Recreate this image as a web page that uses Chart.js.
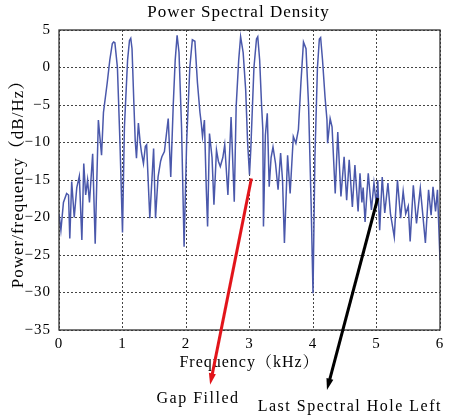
<!DOCTYPE html>
<html>
<head>
<meta charset="utf-8">
<script src="https://cdn.jsdelivr.net/npm/chart.js@4"></script>
<style>
  html, body { margin: 0; background: #fff; }
  #wrap { width: 454px; height: 416px; }
</style>
</head>
<body>
<div id="wrap"><canvas id="psdChart"></canvas></div>
<script>
// frequency (kHz) and PSD (dB/Hz)
const freqKHz = [
  0.00, 0.03, 0.07, 0.12, 0.15, 0.17, 0.20, 0.24, 0.28, 0.32, 0.36, 0.39, 0.42, 0.45, 0.48, 0.53, 0.57, 0.62, 0.67, 0.70, 0.76, 0.80, 0.84, 0.86, 0.88, 0.92, 0.96, 1.00,
  1.03, 1.08, 1.11, 1.13, 1.15, 1.18, 1.20, 1.22, 1.25, 1.28, 1.30, 1.33, 1.36, 1.38, 1.43, 1.49, 1.52, 1.56, 1.60, 1.62, 1.66, 1.72, 1.76, 1.80, 1.83, 1.86, 1.89, 1.93, 1.97,
  2.01, 2.06, 2.10, 2.14, 2.18, 2.22, 2.24, 2.26, 2.29, 2.32, 2.34, 2.37, 2.41, 2.44, 2.48, 2.51, 2.54, 2.58, 2.61, 2.66, 2.71, 2.76, 2.79, 2.83, 2.86, 2.90, 2.94, 2.97, 3.00,
  3.02, 3.07, 3.11, 3.13, 3.16, 3.19, 3.21, 3.22, 3.25, 3.28, 3.31, 3.34, 3.37, 3.41, 3.45, 3.49, 3.52, 3.55, 3.60, 3.64, 3.69, 3.73, 3.77, 3.81, 3.85, 3.89, 3.93, 3.97, 4.00,
  4.03, 4.07, 4.10, 4.12, 4.15, 4.19, 4.22, 4.23, 4.27, 4.30, 4.35, 4.39, 4.44, 4.49, 4.53, 4.57, 4.62, 4.66, 4.71, 4.74, 4.77, 4.79, 4.82, 4.87, 4.92, 4.96, 5.00,
  5.02, 5.05, 5.09, 5.13, 5.18, 5.22, 5.28, 5.33, 5.38, 5.42, 5.46, 5.50, 5.53, 5.58, 5.63, 5.69, 5.73, 5.77, 5.82, 5.86, 5.89, 5.93, 5.96, 6.00
]
const psdDb = [
  -19.5, -21.7, -18, -16.8, -17, -22.8, -15.2, -20, -16, -14.5, -23, -12.8, -17, -15, -18, -11.5, -23.5, -7, -11.7, -6, -2, 1, 3.2, 3.4, 3.3, 0, -10, -22,
  -8, 1, 3.6, 3.9, 2.5, -5, -9.7, -12.1, -7.4, -10.1, -11.4, -12.8, -10.5, -10.3, -20.1, -10.8, -20.1, -14.6, -12.5, -11.9, -11.2, -6.8, -14.6, -4.8, 1, 4.3, 2, -8, -23.9,
  -10, 0, 3.7, 3.5, -2, -6, -7.4, -9.2, -7, -16.3, -21.2, -8.8, -12, -18.3, -11, -12.5, -13.2, -12, -10.3, -17, -6.6, -17.9, -5.2, 1, 4.1, 2, -3, -10, -14.3,
  -11, 0, 3.8, 4.1, 1, -5, -8.3, -21.2, -9, -6.1, -15.9, -12, -10.6, -12.8, -16.3, -11.4, -15, -23.4, -11.7, -16.8, -9.2, -10.1, -8.3, -2, 3.4, 2.5, -5, -18, -30.1,
  -12, 0, 3.8, 4.0, 1, -4, -7, -10.1, -6.8, -7.9, -16.8, -8.6, -17.2, -11.9, -17.7, -12.3, -18.6, -13, -19.2, -14.1, -18, -16, -20.6, -14.1, -19, -15.4, -18.5,
  -15, -21.7, -14.6, -19.4, -15.4, -19.5, -22.6, -15, -20.1, -16.5, -19.5, -18.5, -23.2, -15.7, -20.8, -16.1, -19.7, -23.4, -16.3, -19.7, -15.9, -19.2, -16.3, -25.7
]

// annotation arrows, in data units
const noteText = ['Gap Filled', 'Last Spectral Hole Left']
const arrowFromX = [3.03, 5.02]
const arrowFromY = [-14.8, -17.4]
const arrowToX = [2.38, 4.22]
const arrowToY = [-42.3, -43]
const noteX = [2.19, 4.58]
const noteY = [-44.2, -45.3]

const chartTitle = 'Power Spectral Density'

const serif = "'Liberation Serif', 'Noto Serif CJK SC', 'Noto Sans CJK SC', serif"
const arrowColors = ['#e2141a', '#000000']

const spacing = {
  id: 'spacing',
  beforeLayout(chart) { chart.ctx.letterSpacing = '1px' },
  beforeDraw(chart) { chart.ctx.letterSpacing = '1px' }
}

const extras = {
  id: 'extras',
  afterDraw(chart) {
    const ctx = chart.ctx
    const a = chart.chartArea
    const xs = chart.scales.x
    const ys = chart.scales.y
    ctx.save()
    ctx.strokeStyle = '#333'
    ctx.lineWidth = 1.3
    ctx.strokeRect(a.left, a.top, a.right - a.left, a.bottom - a.top)

    // title, a bit right of the canvas centre like the original
    ctx.fillStyle = '#000'
    ctx.font = '17px ' + serif
    ctx.letterSpacing = '1px'
    ctx.textAlign = 'center'
    ctx.textBaseline = 'middle'
    ctx.fillText(chartTitle, (a.left + a.right) / 2 - 11, a.top - 17)

    for (let i = 0; i < noteText.length; i++) {
      const x0 = xs.getPixelForValue(arrowFromX[i])
      const y0 = ys.getPixelForValue(arrowFromY[i])
      const x1 = xs.getPixelForValue(arrowToX[i])
      const y1 = ys.getPixelForValue(arrowToY[i])
      const ang = Math.atan2(y1 - y0, x1 - x0)
      const head = 12
      ctx.strokeStyle = arrowColors[i]
      ctx.fillStyle = arrowColors[i]
      ctx.lineWidth = 3
      ctx.beginPath()
      ctx.moveTo(x0, y0)
      ctx.lineTo(x1 - Math.cos(ang) * head * 0.8, y1 - Math.sin(ang) * head * 0.8)
      ctx.stroke()
      ctx.beginPath()
      ctx.moveTo(x1, y1)
      ctx.lineTo(x1 - head * Math.cos(ang - 0.3), y1 - head * Math.sin(ang - 0.3))
      ctx.lineTo(x1 - head * Math.cos(ang + 0.3), y1 - head * Math.sin(ang + 0.3))
      ctx.closePath()
      ctx.fill()

      ctx.fillStyle = '#000'
      ctx.font = '16px ' + serif
      ctx.letterSpacing = '1.5px'
      ctx.fillText(noteText[i], xs.getPixelForValue(noteX[i]), ys.getPixelForValue(noteY[i]))
    }
    ctx.restore()
  }
}

const ctx = document.getElementById('psdChart')

const config = {
  type: 'line',
  data: {
    datasets: [{
      data: freqKHz.map((f, i) => ({ x: f, y: psdDb[i] })),
      borderColor: '#4a58ab',
      borderWidth: 1.5,
      pointRadius: 0,
      tension: 0,
      fill: false
    }]
  },
  options: {
    responsive: true,
    maintainAspectRatio: false,
    animation: false,
    layout: { padding: { top: 30, right: 14, bottom: 42, left: 0 } },
    plugins: {
      legend: { display: false },
      tooltip: { enabled: false },
      title: { display: false }
    },
    scales: {
      x: {
        type: 'linear',
        min: 0,
        max: 6,
        afterFit: s => { s.height = 44 },
        ticks: { stepSize: 1, color: '#000', padding: 5, font: { family: serif, size: 15 } },
        grid: { color: '#444', drawTicks: false },
        border: { display: false, dash: [2, 2] },
        title: {
          display: true,
          text: 'Frequency（kHz）',
          color: '#000',
          font: { family: serif, size: 16 },
          padding: { top: 0, bottom: 2 }
        }
      },
      y: {
        min: -35,
        max: 5,
        afterFit: s => { s.width = 59 },
        ticks: {
          stepSize: 5,
          color: '#000',
          padding: 8,
          font: { family: serif, size: 15 },
          callback: v => String(v).replace('-', '−')
        },
        grid: { color: '#444', drawTicks: false },
        border: { display: false, dash: [2, 2] },
        title: {
          display: true,
          text: 'Power/frequency（dB/Hz）',
          color: '#000',
          font: { family: serif, size: 17 },
          padding: { top: 8, bottom: 0 }
        }
      }
    }
  },
  plugins: [spacing, extras]
}

const psdChart = new Chart(ctx, config)
</script>
</body>
</html>
